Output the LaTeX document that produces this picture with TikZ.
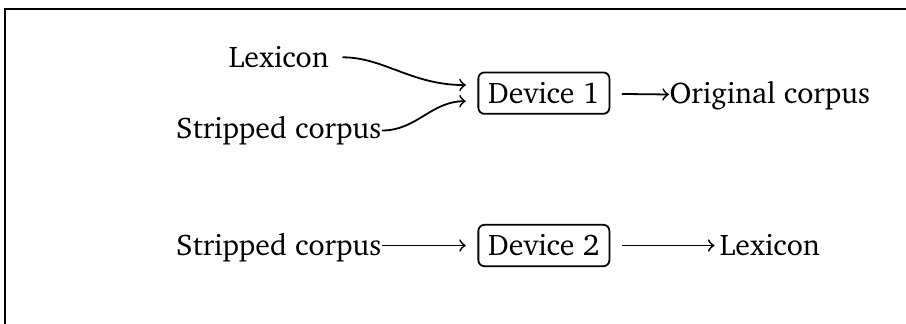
\documentclass[tikz,border=0pt]{standalone}
\usepackage[T1]{fontenc}
\usepackage{charter}
\usetikzlibrary{positioning,calc}

\begin{document}
\begin{tikzpicture}[
  every node/.style={font=\normalsize},
  txt/.style={inner sep=0pt},
  dev/.style={draw, rounded corners=2pt, inner sep=3.3pt, outer sep=4.2pt, semithick},
  arr/.style={->, semithick}
]
  % page size and the frame round the figure
  \useasboundingbox (-182.2pt,31.2pt) rectangle (121.3pt,-77.3pt);
  \draw[semithick] (-180.6pt,-90pt) |- (130pt,28.1pt);

  \node[dev] (dev1) at (0,0) {Device 1};
  \node[dev, below=28.8pt of dev1] (dev2) {Device 2};

  % first device: two inputs, one output
  \node[txt, anchor=base] (lex) at ($(dev1.base)+(-88.8pt,12pt)$) {Lexicon};
  \node[txt, anchor=base] (strip) at ($(dev1.base)+(-88.8pt,-11.7pt)$) {Stripped corpus};
  \node[txt, anchor=base] (orig) at ($(dev1.base)+(75.7pt,0)$) {Original corpus};

  % second device
  \node[txt, anchor=base] (strip2) at ($(dev2.base)+(-88.8pt,0)$) {Stripped corpus};
  \node[txt, anchor=base] (lex2) at ($(dev2.base)+(75.7pt,0)$) {Lexicon};

  \draw[arr, shorten <=4.4pt] (lex.east) to[out=0, in=180] ([yshift=2.7pt]dev1.west);
  \draw[arr] (strip.east) to[out=0, in=180] ([yshift=-2.7pt]dev1.west);
  \draw[arr] (dev1) -- (orig);

  \draw[arr] (strip2.east |- dev2) -- (dev2);
  \draw[arr, shorten >=1.6pt] (dev2) -- (lex2.west |- dev2);
\end{tikzpicture}
\end{document}
